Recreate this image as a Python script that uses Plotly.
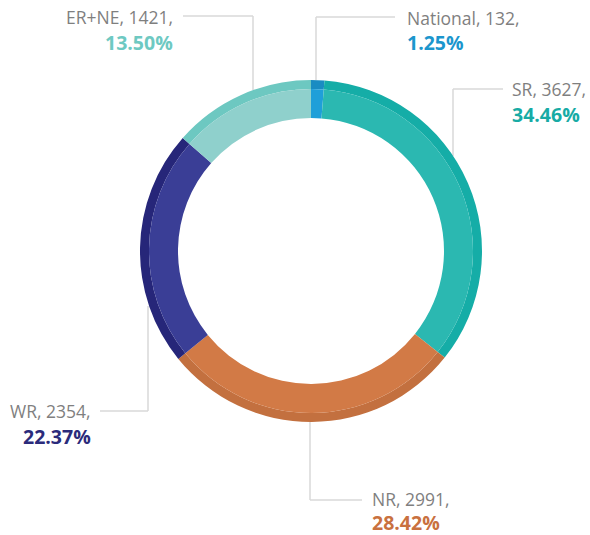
import plotly.graph_objects as go

labels = ["National", "SR", "NR", "WR", "ER+NE"]
values = [132, 3627, 2991, 2354, 1421]
inner_colors = ["#1f9fd9", "#2bb8b1", "#d27a46", "#3a3e96", "#8fd0cc"]
outer_colors = ["#1a8cc2", "#15ada7", "#c3703f", "#262679", "#6dc8c1"]
pct_colors = ["#1b96cd", "#17aba5", "#c9713f", "#2b2b7b", "#6ec9c2"]

W, H = 590, 535
cx, cy = 311, 251
R_out, R_band, R_in = 171, 162, 133

def dom(r):
    return dict(x=[(cx - r) / W, (cx + r) / W], y=[(H - cy - r) / H, (H - cy + r) / H])

fig = go.Figure()
fig.add_trace(go.Pie(labels=labels, values=values, sort=False, direction="clockwise",
                     rotation=0, hole=R_band / R_out, domain=dom(R_out),
                     marker=dict(colors=outer_colors, line=dict(width=0)),
                     textinfo="none", hoverinfo="label+value+percent", showlegend=False))
fig.add_trace(go.Pie(labels=labels, values=values, sort=False, direction="clockwise",
                     rotation=0, hole=R_in / R_band, domain=dom(R_band),
                     marker=dict(colors=inner_colors, line=dict(width=0)),
                     textinfo="none", hoverinfo="label+value+percent", showlegend=False))

total = sum(values)
# label placement (pixels): x, y of first line, line gap, anchor
label_pos = {
    "National": (405, 18, 25, "left"),
    "SR": (510, 89, 25, "left"),
    "NR": (370, 499, 23, "left"),
    "WR": (93, 411, 25, "right"),
    "ER+NE": (175, 17, 25, "right"),
}
# leader lines (pixel polylines)
leaders = {
    "National": [(395, 17), (316, 17), (316, 80)],
    "SR": [(503, 89), (453, 89), (453, 156)],
    "NR": [(362, 500), (310, 500), (310, 422)],
    "WR": [(100, 411), (148, 411), (148, 306)],
    "ER+NE": [(183, 16), (253, 16), (253, 90)],
}

shapes = []
annotations = []
for lab, val, pc in zip(labels, values, pct_colors):
    x, y, gap, anc = label_pos[lab]
    pct = val / total * 100
    annotations.append(dict(x=x / W, y=1 - y / H, xref="paper", yref="paper",
                            xanchor=anc, yanchor="middle", showarrow=False,
                            text=f"{lab}, {val},",
                            font=dict(family="Open Sans", size=17.5, color="#7f7f7f")))
    annotations.append(dict(x=x / W, y=1 - (y + gap) / H, xref="paper", yref="paper",
                            xanchor=anc, yanchor="middle", showarrow=False,
                            text=f"<b>{pct:.2f}%</b>",
                            font=dict(family="Open Sans", size=19.5, color=pc)))
    pts = leaders[lab]
    for (x0, y0), (x1, y1) in zip(pts[:-1], pts[1:]):
        shapes.append(dict(type="line", xref="paper", yref="paper",
                           x0=x0 / W, y0=1 - y0 / H, x1=x1 / W, y1=1 - y1 / H,
                           line=dict(color="#d9d9d9", width=1.5), layer="below"))

fig.update_layout(width=W, height=H, margin=dict(l=0, r=0, t=0, b=0),
                  paper_bgcolor="white", plot_bgcolor="white",
                  shapes=shapes, annotations=annotations, showlegend=False)
fig.write_html("out.html", config={"displayModeBar": False},
               post_script="document.body.style.margin='0';document.body.style.overflow='hidden';")
